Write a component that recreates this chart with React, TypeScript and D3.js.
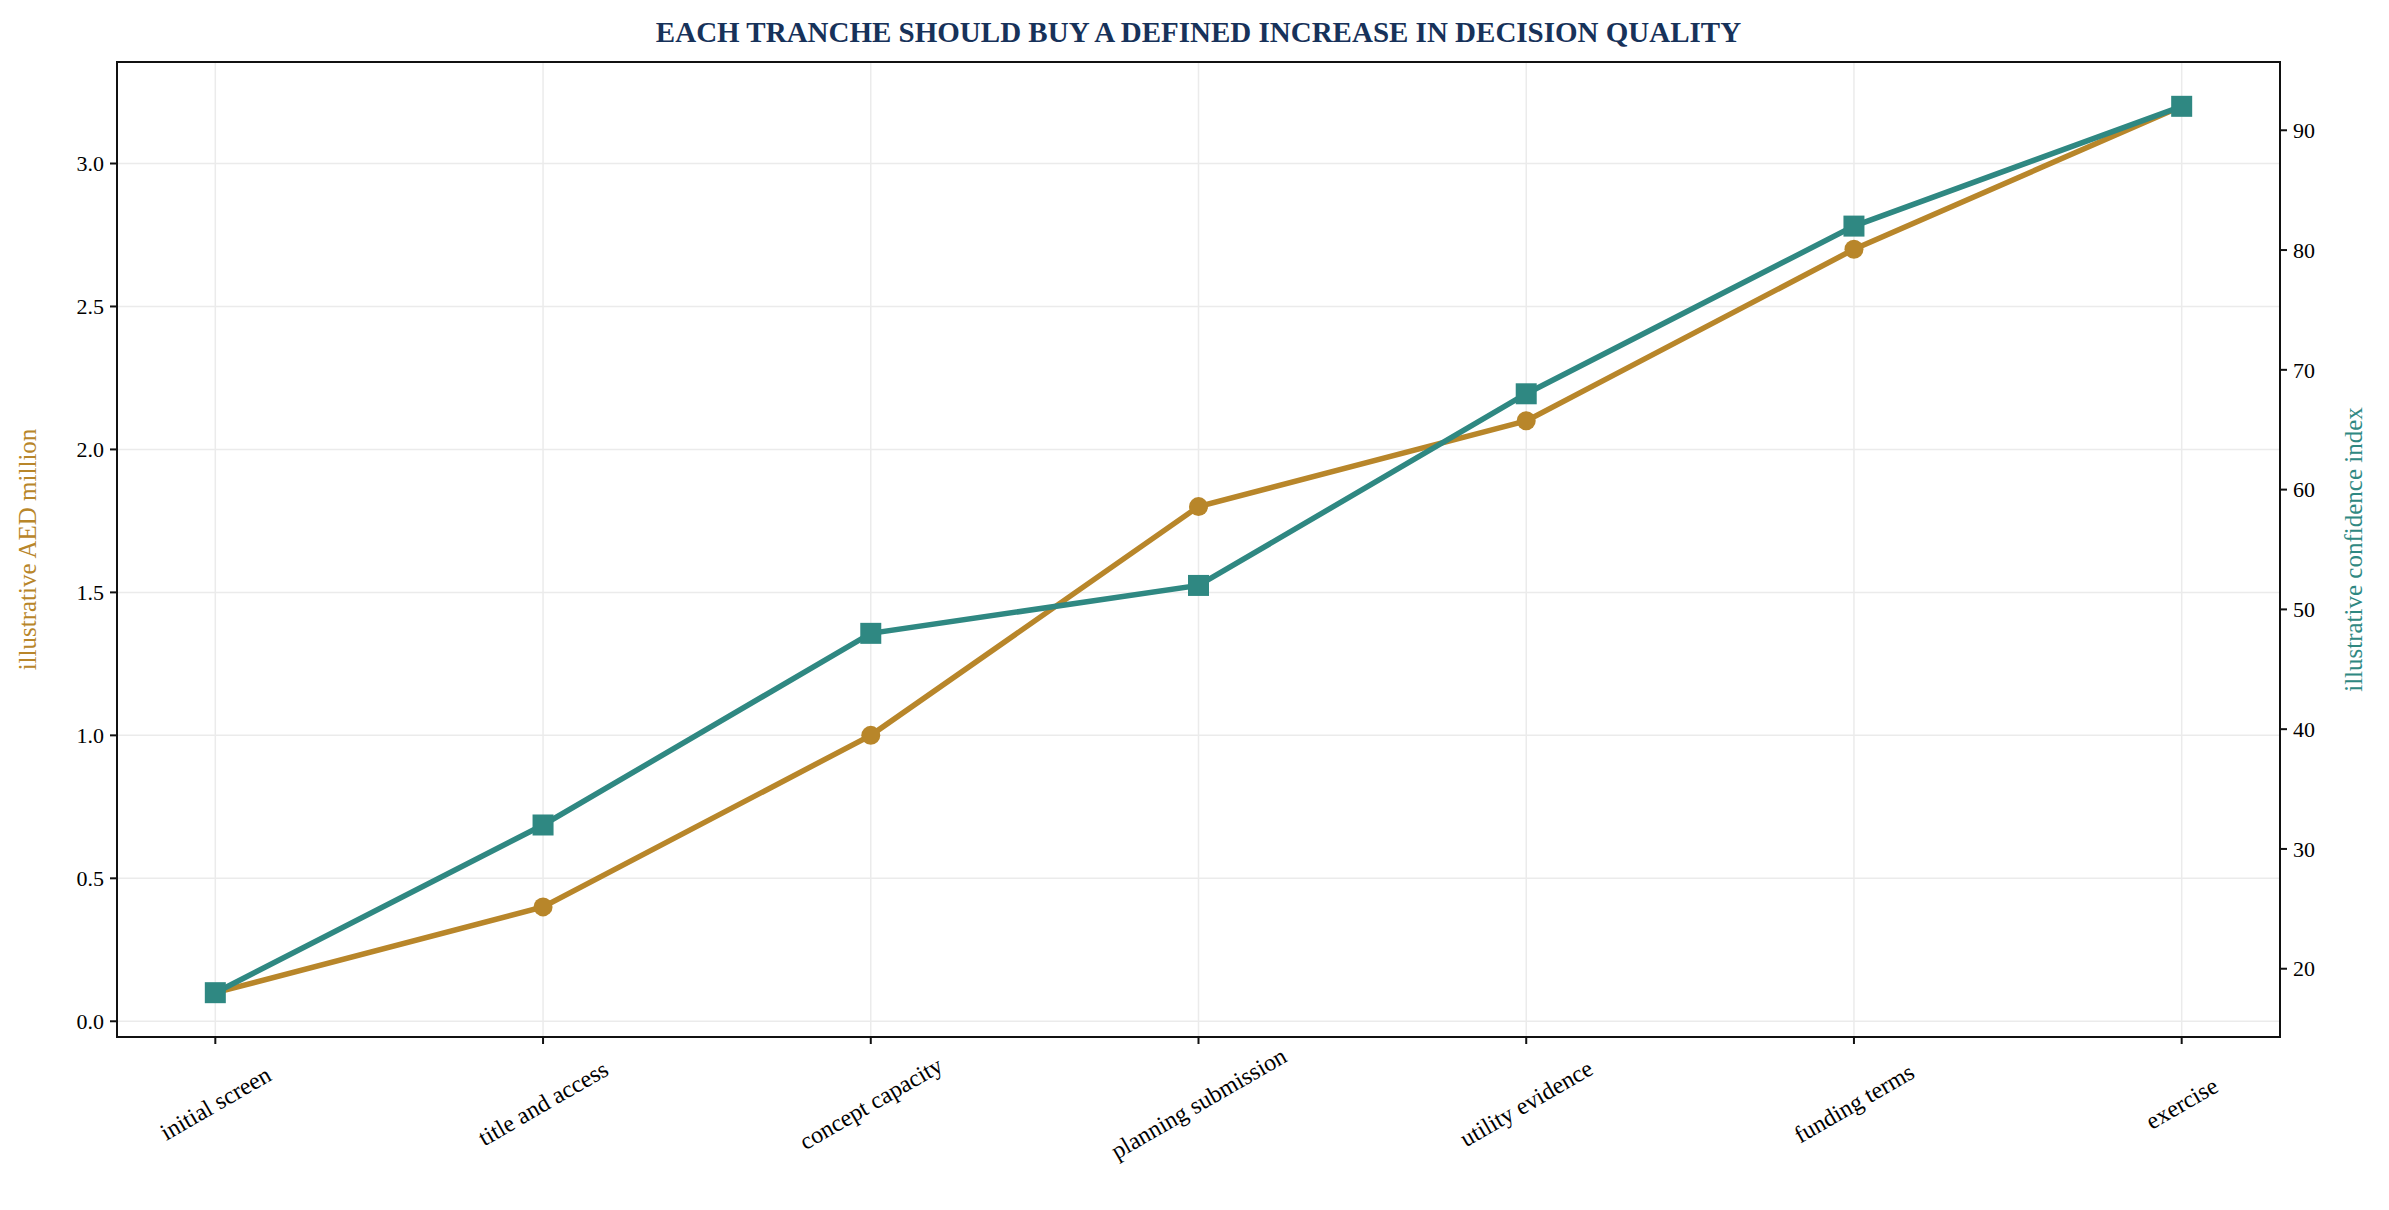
import React from 'react';
import * as d3 from 'd3';

const stages = ['initial screen', 'title and access', 'concept capacity', 'planning submission', 'utility evidence', 'funding terms', 'exercise'];
const aedMillion = [0.1, 0.4, 1.0, 1.8, 2.1, 2.7, 3.2];
const confidence = [18, 32, 48, 52, 68, 82, 92];
const leftTicks = [0, 0.5, 1, 1.5, 2, 2.5, 3];
const rightTicks = [20, 30, 40, 50, 60, 70, 80, 90];

const W = 2389, H = 1210;
const m = { left: 117, right: 2280, top: 62, bottom: 1037 };
const gold = '#b8862a', teal = '#2f8882';
const font = '"Liberation Serif", "DejaVu Serif", serif';

export default function App() {
  const x = d3.scaleLinear().domain([-0.3, 6.3]).range([m.left, m.right]);
  const yL = d3.scaleLinear().domain([-0.055, 3.355]).range([m.bottom, m.top]);
  const yR = d3.scaleLinear().domain([14.3, 95.7]).range([m.bottom, m.top]);
  const lineL = d3.line<number>().x((_, i) => x(i)).y(d => yL(d));
  const lineR = d3.line<number>().x((_, i) => x(i)).y(d => yR(d));

  return (
    <svg width={W} height={H} style={{ position: 'absolute', left: 0, top: 0, background: '#fff' }} fontFamily={font}>
      <rect width={W} height={H} fill="#fff" />
      {stages.map((_, i) => (
        <line key={'gx' + i} x1={x(i)} x2={x(i)} y1={m.top} y2={m.bottom} stroke="#ebebeb" strokeWidth={1.5} />
      ))}
      {leftTicks.map(t => (
        <line key={'gy' + t} x1={m.left} x2={m.right} y1={yL(t)} y2={yL(t)} stroke="#ebebeb" strokeWidth={1.5} />
      ))}
      <path d={lineL(aedMillion) || ''} fill="none" stroke={gold} strokeWidth={5.5} />
      {aedMillion.map((d, i) => <circle key={'c' + i} cx={x(i)} cy={yL(d)} r={9.5} fill={gold} />)}
      <path d={lineR(confidence) || ''} fill="none" stroke={teal} strokeWidth={5.5} />
      {confidence.map((d, i) => <rect key={'s' + i} x={x(i) - 10.5} y={yR(d) - 10.5} width={21} height={21} fill={teal} />)}
      <rect x={m.left} y={m.top} width={m.right - m.left} height={m.bottom - m.top} fill="none" stroke="#111" strokeWidth={2} />
      {leftTicks.map(t => (
        <g key={'lt' + t}>
          <line x1={m.left - 7} x2={m.left} y1={yL(t)} y2={yL(t)} stroke="#111" strokeWidth={2} />
          <text x={m.left - 13} y={yL(t)} dy="0.35em" textAnchor="end" fontSize={22}>{t.toFixed(1)}</text>
        </g>
      ))}
      {rightTicks.map(t => (
        <g key={'rt' + t}>
          <line x1={m.right} x2={m.right + 7} y1={yR(t)} y2={yR(t)} stroke="#111" strokeWidth={2} />
          <text x={m.right + 13} y={yR(t)} dy="0.35em" textAnchor="start" fontSize={22}>{t}</text>
        </g>
      ))}
      {stages.map((s, i) => (
        <g key={'xt' + i}>
          <line x1={x(i)} x2={x(i)} y1={m.bottom} y2={m.bottom + 7} stroke="#111" strokeWidth={2} />
          <text transform={`translate(${x(i)},${m.bottom + 66}) rotate(-30)`} textAnchor="middle" dy="0.35em" fontSize={24}>{s}</text>
        </g>
      ))}
      <text x={(m.left + m.right) / 2} y={42} textAnchor="middle" fontSize={29} fontWeight="bold" fill="#17325a">
        EACH TRANCHE SHOULD BUY A DEFINED INCREASE IN DECISION QUALITY
      </text>
      <text transform={`translate(36,${(m.top + m.bottom) / 2}) rotate(-90)`} textAnchor="middle" fontSize={25} fill={gold}>illustrative AED million</text>
      <text transform={`translate(2362,${(m.top + m.bottom) / 2}) rotate(-90)`} textAnchor="middle" fontSize={25} fill={teal}>illustrative confidence index</text>
    </svg>
  );
}
